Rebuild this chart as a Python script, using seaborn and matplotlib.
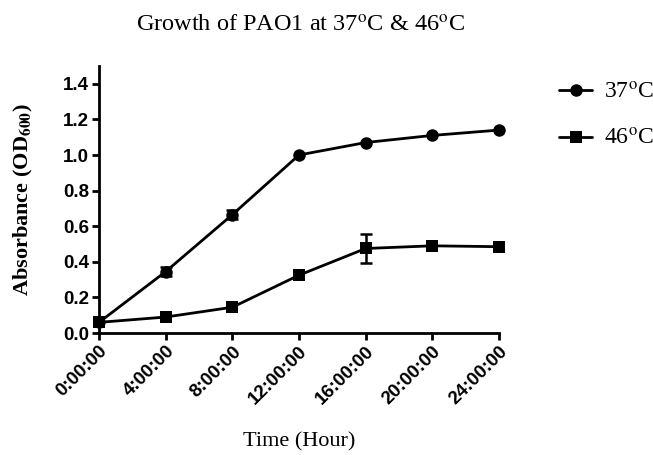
import pandas as pd
import matplotlib
matplotlib.use("Agg")
import matplotlib.pyplot as plt
import seaborn as sns

# data
hours = [0, 4, 8, 12, 16, 20, 24]
tick_labels = ["0:00:00", "4:00:00", "8:00:00", "12:00:00", "16:00:00", "20:00:00", "24:00:00"]
od_37 = [0.06, 0.345, 0.665, 1.00, 1.07, 1.11, 1.14]
err_37 = [0.0, 0.025, 0.025, 0.0, 0.0, 0.0, 0.0]
od_46 = [0.06, 0.09, 0.145, 0.325, 0.475, 0.49, 0.485]
err_46 = [0.0, 0.0, 0.0, 0.0, 0.08, 0.0, 0.0]
groups = ["37$^{\\mathrm{o}}$C", "46$^{\\mathrm{o}}$C"]

df = pd.DataFrame({
    "Hour": hours * 2,
    "OD": od_37 + od_46,
    "err": err_37 + err_46,
    "Temp": [groups[0]] * len(hours) + [groups[1]] * len(hours),
})

sns.set_style("ticks")
plt.rcParams["mathtext.fontset"] = "stix"
plt.rcParams["text.color"] = "black"
plt.rcParams["axes.labelcolor"] = "black"
serif = ["Liberation Serif", "DejaVu Serif"]

fig = plt.figure(figsize=(6.53, 4.55), dpi=100)
ax = fig.add_axes([0.1516, 0.268, 0.6126, 0.587])

sns.lineplot(data=df, x="Hour", y="OD", hue="Temp", style="Temp",
             palette=["black", "black"], markers=["o", "s"], dashes=False,
             markersize=9, linewidth=2, markeredgewidth=0, ax=ax, clip_on=False)

for g, sub in df.groupby("Temp"):
    s = sub[sub["err"] > 0]
    ax.errorbar(s["Hour"], s["OD"], yerr=s["err"], fmt="none", ecolor="black",
                elinewidth=1.8, capsize=4, capthick=1.8, clip_on=False)

ax.set_xlim(0, 24)
ax.set_ylim(0, 1.5)
yt = [0.0, 0.2, 0.4, 0.6, 0.8, 1.0, 1.2, 1.4]
ax.set_yticks(yt)
ax.set_yticklabels([f"{v:.1f}" for v in yt])
ax.set_xticks(hours)
ax.set_xticklabels(tick_labels, rotation=45, ha="right", rotation_mode="anchor")
for lab in ax.get_xticklabels() + ax.get_yticklabels():
    lab.set_fontfamily("Liberation Sans")
    lab.set_fontweight("bold")
    lab.set_fontsize(13.5)

sns.despine(ax=ax)
for sp in ["left", "bottom"]:
    ax.spines[sp].set_linewidth(2)
    ax.spines[sp].set_color("black")
ax.tick_params(width=2, length=5, color="black", labelcolor="black", pad=2)

ax.set_xlabel("Time (Hour)", family=serif, fontsize=16, labelpad=18)
ax.set_ylabel("Absorbance (OD$_{\\mathbf{600}}$)", family=serif, fontsize=16,
              fontweight="bold", labelpad=20)
fig.suptitle("Growth of PAO1 at 37$^{\\mathrm{o}}$C & 46$^{\\mathrm{o}}$C",
             family=serif, fontsize=17.5, x=0.46, y=0.965)

leg = ax.legend(loc="upper left", bbox_to_anchor=(1.15, 0.94), frameon=False,
                prop={"family": serif, "size": 17}, handlelength=1.4,
                handletextpad=0.5, labelspacing=1.05, borderpad=0,
                borderaxespad=0)
for h in leg.legend_handles:
    h.set_markersize(9)

fig.savefig("out.png", dpi=100)
